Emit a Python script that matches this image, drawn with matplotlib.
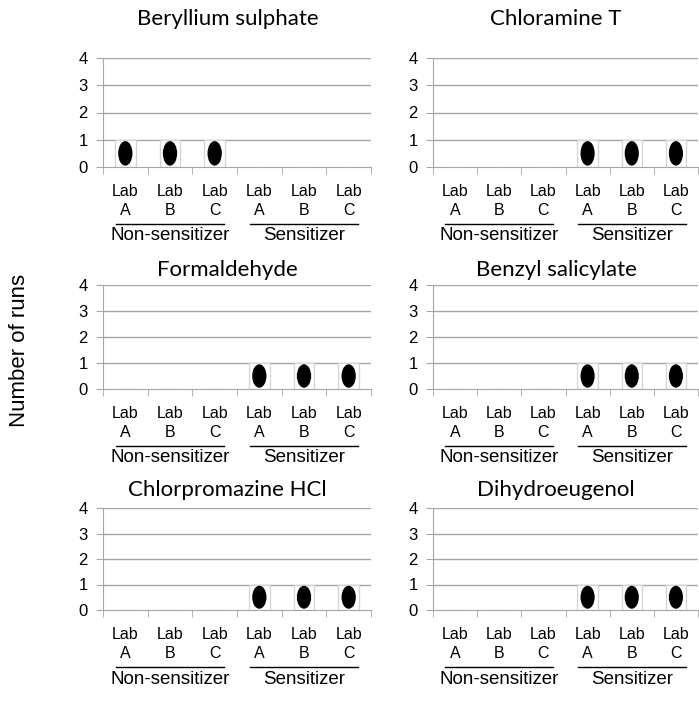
import matplotlib
matplotlib.use("Agg")
import matplotlib.pyplot as plt
from matplotlib.patches import Ellipse
import matplotlib.transforms as mtransforms

# Chart data
chemicals = ["Beryllium sulphate", "Chloramine T", "Formaldehyde",
             "Benzyl salicylate", "Chlorpromazine HCl", "Dihydroeugenol"]
labs = ["A", "B", "C", "A", "B", "C"]
groups = ["Non-sensitizer", "Sensitizer"]
beryllium = [1, 1, 1, 0, 0, 0]
chloramine = [0, 0, 0, 1, 1, 1]
formaldehyde = [0, 0, 0, 1, 1, 1]
benzyl = [0, 0, 0, 1, 1, 1]
chlorpromazine = [0, 0, 0, 1, 1, 1]
dihydroeugenol = [0, 0, 0, 1, 1, 1]
series = [beryllium, chloramine, formaldehyde, benzyl, chlorpromazine, dihydroeugenol]
yticks = [0, 1, 2, 3, 4]

W, H = 699, 702
fig = plt.figure(figsize=(W / 100, H / 100), dpi=100)

tick_font = "Liberation Sans"
title_font = "Lato"
grid_col = "#a6a6a6"

# pixel layout of the panels
col_x = [(103, 371), (433, 698)]
row_y = [(58, 167), (285, 389), (508, 610)]
title_gap = [39, 15, 18]

for k, (name, vals) in enumerate(zip(chemicals, series)):
    r, c = divmod(k, 2)
    x0, x1 = col_x[c]
    top, bot = row_y[r]
    ax = fig.add_axes([x0 / W, 1 - bot / H, (x1 - x0) / W, (bot - top) / H])

    xs = list(range(len(vals)))
    ax.set_xlim(-0.5, len(vals) - 0.5)
    ax.set_ylim(0, 4)

    # white picture-style bars with light edges
    ax.bar(xs, vals, width=0.46, color="white", edgecolor="#d4d4d4",
           linewidth=0.9, zorder=2)
    for x, v in zip(xs, vals):
        if v > 0:
            ax.add_patch(Ellipse((x, v / 2), width=0.32, height=v * 0.9,
                                 facecolor="black", edgecolor="none", zorder=3))

    for y in yticks[1:]:
        ax.axhline(y, color=grid_col, linewidth=1.0, zorder=1)

    for s in ["top", "right"]:
        ax.spines[s].set_visible(False)
    ax.spines["left"].set_color(grid_col)
    ax.spines["bottom"].set_color(grid_col)

    ax.set_yticks(yticks)
    ax.set_yticklabels([str(t) for t in yticks], fontname=tick_font, fontsize=12)
    ax.tick_params(axis="y", length=5, color=grid_col, pad=6)

    ax.set_xticks(xs)
    ax.set_xticklabels(["Lab\n" + l for l in labs], fontname=tick_font,
                       fontsize=11.5, linespacing=1.35)
    ax.set_xticks([x + 0.5 for x in xs[:-1]] + [-0.5, len(vals) - 0.5], minor=True)
    ax.tick_params(axis="x", which="major", length=0, pad=12)
    ax.tick_params(axis="x", which="minor", length=5, color=grid_col)

    # group labels with line above
    trans = mtransforms.blended_transform_factory(ax.transData, ax.transAxes)
    px = 1.0 / (bot - top)
    for g, name_g in enumerate(groups):
        center = 1 + 3 * g
        ax.plot([center - 1.22, center + 1.22], [-57 * px, -57 * px],
                color="black", linewidth=1.0, transform=trans, clip_on=False)
        ax.text(center, -69 * px, name_g, transform=trans, ha="center",
                va="center", fontname=tick_font, fontsize=13.5)

    ax.text(0.465, 1.0 + title_gap[r] * px, name, transform=ax.transAxes,
            ha="center", va="center", fontname=title_font, fontsize=16)

fig.text(20 / W, 1 - 350 / H, "Number of runs", rotation=90, ha="center",
         va="center", fontname=tick_font, fontsize=16)

fig.savefig("out.png", dpi=100)
